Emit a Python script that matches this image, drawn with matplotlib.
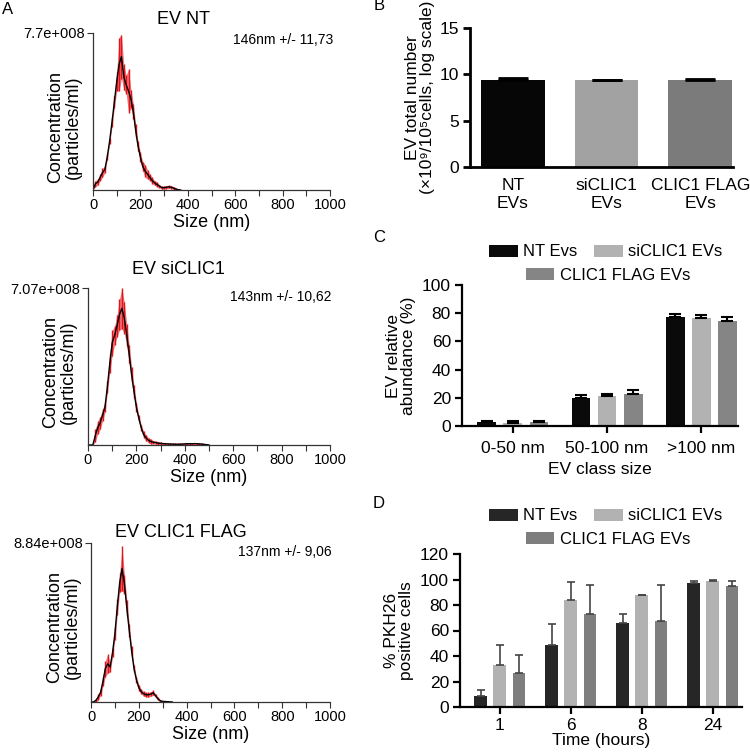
import numpy as np
import matplotlib
matplotlib.use('Agg')
import matplotlib.pyplot as plt
from matplotlib.ticker import MultipleLocator

plt.rcParams['font.family'] = ['Liberation Sans', 'DejaVu Sans']

# ---------------- Datos panel A (NTA) ----------------
# tamaño (nm) cada 10 nm; valores relativos al máximo del eje y
tam_nt = np.arange(0, 380, 10)
nt_rel = [0.00, 0.04, 0.05, 0.08, 0.11, 0.13, 0.21, 0.31, 0.43, 0.56,
          0.69, 0.80, 0.85, 0.72, 0.67, 0.63, 0.58, 0.50, 0.38, 0.28,
          0.21, 0.15, 0.12, 0.10, 0.08, 0.06, 0.045, 0.035, 0.025, 0.015,
          0.015, 0.018, 0.02, 0.018, 0.012, 0.005, 0.002, 0.0]
nt_err = [0.0, 0.02, 0.02, 0.02, 0.03, 0.02, 0.02, 0.02, 0.03, 0.04,
          0.06, 0.17, 0.14, 0.08, 0.06, 0.14, 0.06, 0.05, 0.04, 0.03,
          0.03, 0.03, 0.04, 0.03, 0.02, 0.02, 0.015, 0.015, 0.01, 0.01,
          0.01, 0.01, 0.01, 0.01, 0.01, 0.01, 0.0, 0.0]

tam_si = np.arange(0, 510, 10)
si_rel = [0.0, 0.0, 0.0, 0.06, 0.11, 0.14, 0.19, 0.24, 0.37, 0.52,
          0.65, 0.70, 0.76, 0.83, 0.87, 0.81, 0.70, 0.58, 0.45, 0.34,
          0.24, 0.17, 0.11, 0.066, 0.045, 0.03, 0.022, 0.018, 0.015, 0.012,
          0.01, 0.009, 0.008, 0.007, 0.006, 0.006, 0.005, 0.005, 0.005, 0.006,
          0.007, 0.008, 0.008, 0.008, 0.009, 0.008, 0.007, 0.006, 0.004, 0.002,
          0.0]
si_err = [0.0, 0.0, 0.0, 0.04, 0.04, 0.04, 0.04, 0.03, 0.04, 0.06,
          0.08, 0.06, 0.07, 0.10, 0.13, 0.10, 0.07, 0.06, 0.05, 0.04,
          0.03, 0.02, 0.02, 0.02, 0.02, 0.015, 0.015, 0.01, 0.01, 0.01,
          0.01, 0.005, 0.005, 0.005, 0.005, 0.005, 0.005, 0.005, 0.005, 0.005,
          0.005, 0.005, 0.005, 0.005, 0.005, 0.005, 0.005, 0.005, 0.005, 0.0,
          0.0]

tam_flag = np.arange(0, 350, 10)
flag_rel = [0.0, 0.0, 0.01, 0.03, 0.06, 0.13, 0.21, 0.24, 0.22, 0.31,
            0.43, 0.60, 0.75, 0.84, 0.74, 0.59, 0.45, 0.32, 0.21, 0.14,
            0.09, 0.065, 0.052, 0.046, 0.045, 0.05, 0.058, 0.04, 0.02, 0.008,
            0.004, 0.003, 0.002, 0.001, 0.0]
flag_err = [0.0, 0.0, 0.01, 0.02, 0.02, 0.03, 0.05, 0.06, 0.03, 0.03,
            0.04, 0.05, 0.06, 0.14, 0.06, 0.05, 0.04, 0.03, 0.02, 0.02,
            0.02, 0.015, 0.015, 0.015, 0.015, 0.015, 0.015, 0.01, 0.01, 0.005,
            0.0, 0.0, 0.0, 0.0, 0.0]

nta_max = [7.7e8, 7.07e8, 8.84e8]
nta_max_txt = ['7.7e+008', '7.07e+008', '8.84e+008']
nta_titulos = ['EV NT', 'EV siCLIC1', 'EV CLIC1 FLAG']
nta_textos = ['146nm +/- 11,73', '143nm +/- 10,62', '137nm +/- 9,06']

# ---------------- Datos panel B ----------------
b_categorias = ['NT\nEVs', 'siCLIC1\nEVs', 'CLIC1 FLAG\nEVs']
b_valores = [9.35, 9.38, 9.40]
b_err = [0.22, 0.05, 0.06]
b_colores = ['#060606', '#a2a2a2', '#7b7b7b']

# ---------------- Datos panel C ----------------
c_categorias = ['0-50 nm', '50-100 nm', '>100 nm']
c_series = ['NT Evs', 'siCLIC1 EVs', 'CLIC1 FLAG EVs']
c_valores = [[2.8, 19.9, 77.5],
             [2.4, 21.1, 76.8],
             [2.6, 22.7, 74.6]]
c_err = [[0.5, 1.9, 2.1],
         [1.1, 1.4, 2.1],
         [0.9, 2.7, 2.9]]
c_colores = ['#0a0a0a', '#b2b2b2', '#858585']

# ---------------- Datos panel D ----------------
d_categorias = ['1', '6', '8', '24']
d_valores = [[8.6, 48.5, 65.8, 97.5],
             [33.3, 83.6, 87.8, 98.8],
             [27.0, 73.1, 67.3, 95.1]]
d_err = [[4.5, 16.5, 7.3, 1.0],
         [15.2, 14.4, 0.0, 0.5],
         [13.9, 22.8, 28.6, 3.9]]
d_colores = ['#262626', '#b2b2b2', '#7e7e7e']
d_err_color = '#444444'

W, H = 750, 752


def caja(izq, arriba, der, abajo):
    # convierte pixeles a fracciones de figura
    return [izq / W, 1 - abajo / H, (der - izq) / W, (abajo - arriba) / H]


fig = plt.figure(figsize=(W / 100, H / 100), dpi=100)

# ---------------- Panel A ----------------
cajas_a = [caja(93, 33, 330, 190), caja(88, 288, 330, 445), caja(91, 543, 330, 702)]
titulo_pos = [(0.38, 1.083), (0.372, 1.115), (0.377, 1.069)]
texto_pos = [(1.013, 0.955), (1.008, 0.943), (1.008, 0.943)]
ylab_pos = [(-0.12, 0.40), (-0.118, 0.465), (-0.115, 0.47)]
datos_a = [(tam_nt, nt_rel, nt_err), (tam_si, si_rel, si_err), (tam_flag, flag_rel, flag_err)]

for i, (tam, rel, err) in enumerate(datos_a):
    ax = fig.add_axes(cajas_a[i])
    ymax = nta_max[i]
    media = np.array(rel) * ymax
    sd = np.array(err) * ymax
    ax.fill_between(tam, media - sd, media + sd, color='#ee4a4f', alpha=0.75, lw=0)
    ax.vlines(tam, media - sd, media + sd, color='#e0141a', lw=1.0)
    ax.plot(tam, media, color='black', lw=1.0)
    ax.set_xlim(0, 1000)
    ax.set_ylim(0, ymax)
    ax.set_xticks(range(0, 1001, 200))
    ax.xaxis.set_minor_locator(MultipleLocator(100))
    ax.set_yticks([ymax])
    ax.set_yticklabels([nta_max_txt[i]])
    ax.tick_params(axis='both', which='both', direction='out', length=4,
                   width=0.8, color='#333333', labelsize=10.5, pad=2)
    for s in ['top', 'right']:
        ax.spines[s].set_visible(False)
    for s in ['left', 'bottom']:
        ax.spines[s].set_color('#333333')
        ax.spines[s].set_linewidth(0.9)
    ax.set_xlabel('Size (nm)', fontsize=13, labelpad=1)
    ax.text(ylab_pos[i][0], ylab_pos[i][1], 'Concentration\n(particles/ml)',
            rotation=90, ha='center', va='center', multialignment='center',
            fontsize=13, linespacing=1.05, transform=ax.transAxes)
    ax.text(titulo_pos[i][0], titulo_pos[i][1], nta_titulos[i], ha='center',
            va='center', fontsize=13, transform=ax.transAxes)
    ax.text(texto_pos[i][0], texto_pos[i][1], nta_textos[i], ha='right',
            va='center', fontsize=10, transform=ax.transAxes)


def estilo_barras(ax, grosor=1.6):
    for s in ['top', 'right']:
        ax.spines[s].set_visible(False)
    for s in ['left', 'bottom']:
        ax.spines[s].set_linewidth(grosor)
    ax.tick_params(axis='both', direction='out', length=5, width=grosor,
                   labelsize=12.5, pad=3)


# ---------------- Panel B ----------------
ax = fig.add_axes(caja(470, 28, 733, 167))
xb = np.arange(len(b_categorias))
ax.bar(xb, b_valores, width=0.68, color=b_colores)
ax.errorbar(xb, b_valores, yerr=[np.zeros(3), b_err], fmt='none', ecolor='black',
            elinewidth=2, capsize=11, capthick=2)
ax.set_xlim(-0.46, 2.35)
ax.set_ylim(0, 15)
ax.set_yticks([0, 5, 10, 15])
ax.set_xticks(xb)
ax.set_xticklabels(b_categorias)
estilo_barras(ax, 2)
ax.tick_params(axis='x', length=0, pad=8)
ax.set_ylabel('EV total number\n(×10⁹/10⁵cells, log scale)',
              fontsize=12.5, linespacing=1.0, labelpad=3)

# ---------------- Panel C ----------------
ax = fig.add_axes(caja(462, 285, 738, 426))
xc = np.arange(len(c_categorias))
desp = [-0.277, 0, 0.277]
handles_c = []
for j in range(3):
    b = ax.bar(xc + desp[j], c_valores[j], width=0.2, color=c_colores[j], label=c_series[j])
    ax.errorbar(xc + desp[j], c_valores[j], yerr=[np.zeros(3), c_err[j]], fmt='none',
                ecolor='black', elinewidth=1.5, capsize=4, capthick=1.5)
    handles_c.append(b)
ax.set_xlim(-0.54, 2.39)
ax.set_ylim(0, 100)
ax.set_yticks(range(0, 101, 20))
ax.set_xticks(xc)
ax.set_xticklabels(c_categorias)
estilo_barras(ax, 1.6)
ax.tick_params(axis='x', pad=6)
ax.set_xlabel('EV class size', fontsize=12.5, labelpad=4)
ax.set_ylabel('EV relative\nabundance (%)', fontsize=12.5, linespacing=1.05)

# ---------------- Panel D ----------------
ax = fig.add_axes(caja(460, 554, 742, 707))
xd = np.arange(len(d_categorias))
desp_d = [-0.27, 0, 0.27]
handles_d = []
for j in range(3):
    b = ax.bar(xd + desp_d[j], d_valores[j], width=0.18, color=d_colores[j], label=c_series[j])
    ax.errorbar(xd + desp_d[j], d_valores[j], yerr=[np.zeros(4), d_err[j]], fmt='none',
                ecolor=d_err_color, elinewidth=1.2, capsize=3, capthick=1.2)
    handles_d.append(b)
ax.set_xlim(-0.56, 3.41)
ax.set_ylim(0, 120)
ax.set_yticks(range(0, 121, 20))
ax.set_xticks(xd)
ax.set_xticklabels(d_categorias)
estilo_barras(ax, 1.6)
ax.set_xlabel('Time (hours)', fontsize=12.5, labelpad=0)
ax.set_ylabel('% PKH26\npositive cells', fontsize=12.5, linespacing=1.05, labelpad=4)

# ---------------- Leyendas C y D ----------------
opciones = dict(frameon=False, fontsize=12, handlelength=1.7, handleheight=0.7,
                handletextpad=0.35, columnspacing=1.0, borderpad=0, borderaxespad=0)
for handles, y1, y2 in [(handles_c, 252, 275), (handles_d, 516, 539)]:
    fig.legend(handles[:2], c_series[:2], ncol=2, loc='center',
               bbox_to_anchor=(606 / W, 1 - y1 / H), **opciones)
    fig.legend(handles[2:], c_series[2:], ncol=1, loc='center',
               bbox_to_anchor=(608 / W, 1 - y2 / H), **opciones)

# ---------------- Letras de panel ----------------
for letra, (px, py) in zip('ABCD', [(8, 10), (379, 6), (379, 237), (379, 503)]):
    fig.text(px / W, 1 - py / H, letra, ha='center', va='center', fontsize=12)

fig.savefig('out.png', dpi=100)
